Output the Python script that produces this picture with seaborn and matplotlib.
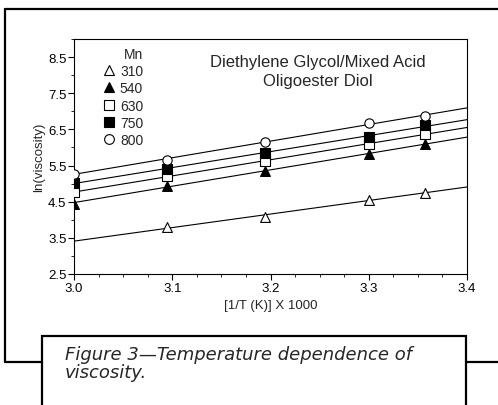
import matplotlib
matplotlib.use("Agg")
import matplotlib.pyplot as plt
from matplotlib.lines import Line2D
from matplotlib.patches import Rectangle
from matplotlib.ticker import MultipleLocator
import numpy as np
import pandas as pd
import seaborn as sns

# ---- data ----
mn_labels = ["310", "540", "630", "750", "800"]
x_310 = [3.095, 3.194, 3.300, 3.357]
y_310 = [3.79, 4.09, 4.55, 4.75]
x_all = [3.000, 3.095, 3.194, 3.300, 3.357]
y_540 = [4.45, 4.94, 5.36, 5.82, 6.09]
y_630 = [4.77, 5.20, 5.62, 6.09, 6.38]
y_750 = [5.02, 5.41, 5.85, 6.30, 6.61]
y_800 = [5.27, 5.66, 6.16, 6.67, 6.87]
x_ticks = [3.0, 3.1, 3.2, 3.3, 3.4]
y_ticks = [2.5, 3.5, 4.5, 5.5, 6.5, 7.5, 8.5]

series = [
    ("310", x_310, y_310, "^", "white"),
    ("540", x_all, y_540, "^", "black"),
    ("630", x_all, y_630, "s", "white"),
    ("750", x_all, y_750, "s", "black"),
    ("800", x_all, y_800, "o", "white"),
]

sns.set_style("ticks")
plt.rcParams["font.family"] = ["Liberation Sans", "DejaVu Sans"]

fig = plt.figure(figsize=(4.98, 4.06), dpi=100)
ax = fig.add_axes([74 / 498, 1 - 275 / 406, (467 - 74) / 498, (275 - 40) / 406])
ax.set_xlim(3.0, 3.4)
ax.set_ylim(2.5, 9.0)

handles = []
for name, xs, ys, mk, fc in series:
    df = pd.DataFrame({"x": xs, "y": ys})
    sns.regplot(data=df, x="x", y="y", ax=ax, ci=None, truncate=False,
                scatter=False, color="black", line_kws={"lw": 0.8})
    sns.scatterplot(data=df, x="x", y="y", ax=ax, marker=mk, s=50 if mk != "o" else 45,
                    facecolor=fc, edgecolor="black", linewidth=0.8, zorder=5)
    handles.append(Line2D([], [], marker=mk, ls="none", markersize=7.5 if mk != "o" else 7,
                          markerfacecolor=fc, markeredgecolor="black", markeredgewidth=0.8))

ax.set_xlim(3.0, 3.4)
ax.set_ylim(2.5, 9.0)
ax.set_xticks(x_ticks)
ax.set_xticklabels([f"{v:.1f}" for v in x_ticks])
ax.set_yticks(y_ticks)
ax.set_yticklabels([f"{v:.1f}" for v in y_ticks])
ax.xaxis.set_minor_locator(MultipleLocator(0.025))
ax.yaxis.set_minor_locator(MultipleLocator(0.5))
ax.tick_params(which="major", length=4, width=0.8, labelsize=9.5, direction="out", pad=1.5,
               colors="black")
ax.tick_params(which="minor", length=2, width=0.7, direction="out")
for sp in ax.spines.values():
    sp.set_linewidth(0.8)
    sp.set_color("black")

ax.set_xlabel("[1/T (K)] X 1000", fontsize=9.5, labelpad=4)
ax.set_ylabel("ln(viscosity)", fontsize=9.5, labelpad=2)

leg = ax.legend(handles, mn_labels, title="Mn", frameon=False, loc="upper left",
                bbox_to_anchor=(0.055, 1.0), fontsize=10, title_fontsize=10,
                handlelength=0.8, handletextpad=0.4, labelspacing=0.24,
                borderaxespad=0.15, alignment="right")

ax.text(0.62, 0.935, "Diethylene Glycol/Mixed Acid\nOligoester Diol", transform=ax.transAxes,
        ha="center", va="top", fontsize=12, linespacing=1.3)

# outer frame and caption box
W, H = 498, 406
def fx(p): return p / W
def fy(p): return 1 - p / H
frame_kw = dict(color="black", lw=1.6, transform=fig.transFigure, clip_on=False)
fig.add_artist(Line2D([fx(5), fx(5)], [fy(10), fy(363)], **frame_kw))
fig.add_artist(Line2D([fx(5), fx(498)], [fy(10), fy(10)], **frame_kw))
fig.add_artist(Line2D([fx(5), fx(42)], [fy(363), fy(363)], **frame_kw))
fig.add_artist(Line2D([fx(466), fx(498)], [fy(363), fy(363)], **frame_kw))
fig.add_artist(Rectangle((fx(42), fy(420)), fx(466) - fx(42), fy(337) - fy(420),
                         transform=fig.transFigure, fill=False, ec="black", lw=1.6))
fig.text(fx(65), fy(346), "Figure 3\u2014Temperature dependence of\nviscosity.",
         ha="left", va="top", fontsize=13, style="italic", family=["DejaVu Sans"],
         linespacing=1.0)

fig.savefig("out.png", dpi=100)
